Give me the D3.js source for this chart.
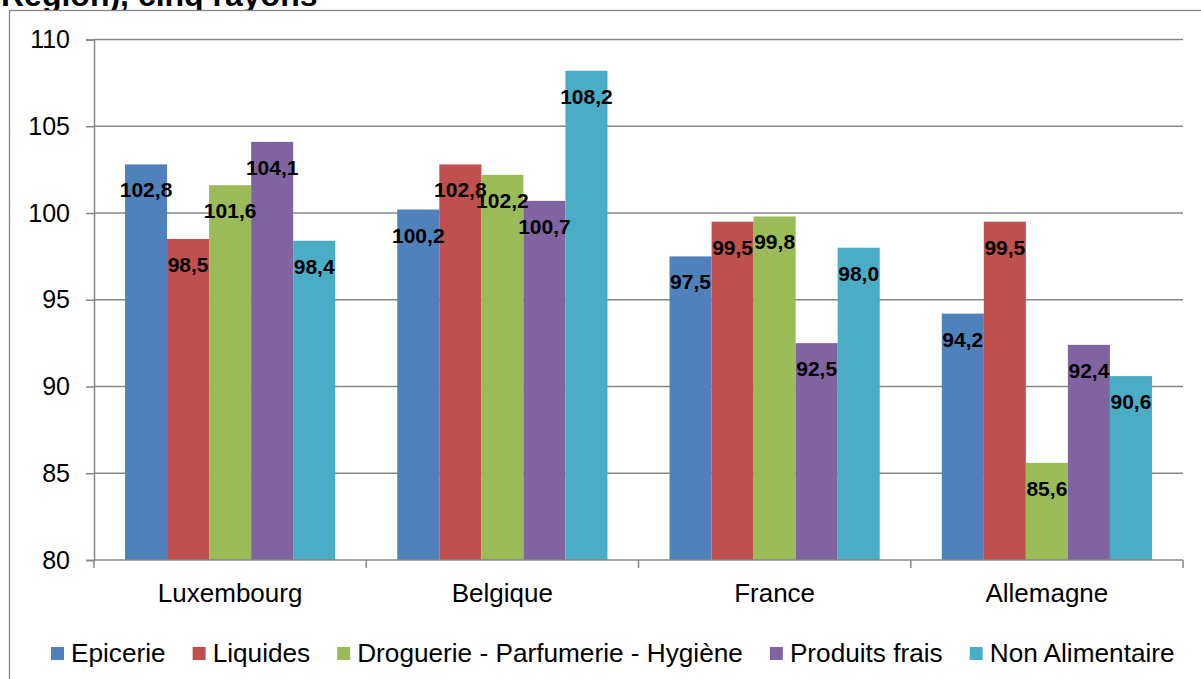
<!DOCTYPE html>
<html>
<head>
<meta charset="utf-8">
<script src="https://cdn.jsdelivr.net/npm/d3@7"></script>
<style>
  html, body { margin: 0; padding: 0; background: #fff; }
  svg { display: block; font-family: Arial, "Liberation Sans", sans-serif; }
</style>
</head>
<body>
<svg id="chart" width="1201" height="679"></svg>
<script>
// Countries (categories) and the five store departments (series)
const countries = ["Luxembourg", "Belgique", "France", "Allemagne"];
const departments = ["Epicerie", "Liquides", "Droguerie - Parfumerie - Hygiène", "Produits frais", "Non Alimentaire"];
const colors = ["#4F81BD", "#C0504D", "#9BBB59", "#8064A2", "#4BACC6"];

// Price index per department, one value per country
const epicerie = [102.8, 100.2, 97.5, 94.2];
const liquides = [98.5, 102.8, 99.5, 99.5];
const droguerie = [101.6, 102.2, 99.8, 85.6];
const produitsFrais = [104.1, 100.7, 92.5, 92.4];
const nonAlimentaire = [98.4, 108.2, 98.0, 90.6];
const seriesValues = [epicerie, liquides, droguerie, produitsFrais, nonAlimentaire];

const yTicks = [80, 85, 90, 95, 100, 105, 110];

const svg = d3.select("#chart");
const W = 1201, H = 679;
const plot = { left: 94, right: 1183, top: 39.5, bottom: 560 };
const axisColor = "#868686";

svg.append("rect").attr("width", W).attr("height", H).attr("fill", "#fff");

// Title (partly above the visible area)
svg.append("text")
  .attr("x", 1).attr("y", 6)
  .attr("font-size", 32).attr("font-weight", "bold").attr("fill", "#000")
  .text("Région), cinq rayons");

// Chart frame
svg.append("rect")
  .attr("x", 9.5).attr("y", 10.5)
  .attr("width", 1300).attr("height", 800)
  .attr("fill", "#fff").attr("stroke", axisColor).attr("stroke-width", 1.3);

const x0 = d3.scaleBand().domain(countries).range([plot.left, plot.right]).padding(0);
const bw = x0.bandwidth();
const gap = bw * 0.114;
const x1 = d3.scaleBand().domain(departments).range([gap, bw - gap]).padding(0);
const y = d3.scaleLinear().domain([80, 110]).range([plot.bottom, plot.top]);

// Horizontal gridlines
svg.append("g").selectAll("line")
  .data(yTicks.filter(t => t > 80))
  .join("line")
  .attr("x1", plot.left).attr("x2", plot.right)
  .attr("y1", d => y(d)).attr("y2", d => y(d))
  .attr("stroke", axisColor).attr("stroke-width", 1.5);

// Y axis
const yAxis = svg.append("g")
  .attr("transform", `translate(${plot.left},0)`)
  .call(d3.axisLeft(y).tickValues(yTicks).tickSize(8).tickPadding(16).tickFormat(d3.format("d")));
yAxis.select(".domain").attr("stroke", axisColor).attr("stroke-width", 1.5);
yAxis.selectAll(".tick line").attr("stroke", axisColor).attr("stroke-width", 1.5);
yAxis.selectAll(".tick text")
  .attr("font-size", 25).attr("fill", "#000")
  .attr("font-family", "Arial, 'Liberation Sans', sans-serif");

// Bars
const groups = svg.append("g").selectAll("g")
  .data(countries)
  .join("g")
  .attr("transform", d => `translate(${x0(d)},0)`);

groups.selectAll("rect")
  .data((c, ci) => departments.map((dep, si) => ({ dep, si, v: seriesValues[si][ci] })))
  .join("rect")
  .attr("x", d => x1(d.dep))
  .attr("width", x1.bandwidth())
  .attr("y", d => y(d.v))
  .attr("height", d => y(80) - y(d.v))
  .attr("fill", d => colors[d.si]);

// Value labels inside the bar ends
groups.selectAll("text")
  .data((c, ci) => departments.map((dep, si) => ({ dep, si, v: seriesValues[si][ci] })))
  .join("text")
  .attr("x", d => x1(d.dep) + x1.bandwidth() / 2)
  .attr("y", d => y(d.v) + 33)
  .attr("text-anchor", "middle")
  .attr("font-size", 21).attr("font-weight", "bold").attr("fill", "#000")
  .text(d => d.v.toFixed(1).replace(".", ","));

// X axis
const xAxisG = svg.append("g");
xAxisG.append("line")
  .attr("x1", plot.left).attr("x2", plot.right)
  .attr("y1", plot.bottom).attr("y2", plot.bottom)
  .attr("stroke", axisColor).attr("stroke-width", 1.5);
const boundaries = countries.map(c => x0(c)).concat([plot.right]);
xAxisG.selectAll("line.tk")
  .data(boundaries)
  .join("line").attr("class", "tk")
  .attr("x1", d => d).attr("x2", d => d)
  .attr("y1", plot.bottom).attr("y2", plot.bottom + 8)
  .attr("stroke", axisColor).attr("stroke-width", 1.5);
xAxisG.selectAll("text")
  .data(countries)
  .join("text")
  .attr("x", d => x0(d) + bw / 2)
  .attr("y", 602)
  .attr("text-anchor", "middle")
  .attr("font-size", 26).attr("fill", "#000")
  .text(d => d);

// Legend
const legend = svg.append("g");
let lx = 51;
departments.forEach((dep, i) => {
  legend.append("rect")
    .attr("x", lx).attr("y", 647)
    .attr("width", 13).attr("height", 13)
    .attr("fill", colors[i]);
  const t = legend.append("text")
    .attr("x", lx + 20).attr("y", 662)
    .attr("font-size", 26.2).attr("fill", "#000")
    .text(dep);
  lx += 20 + t.node().getComputedTextLength() + 27;
});
</script>
</body>
</html>
